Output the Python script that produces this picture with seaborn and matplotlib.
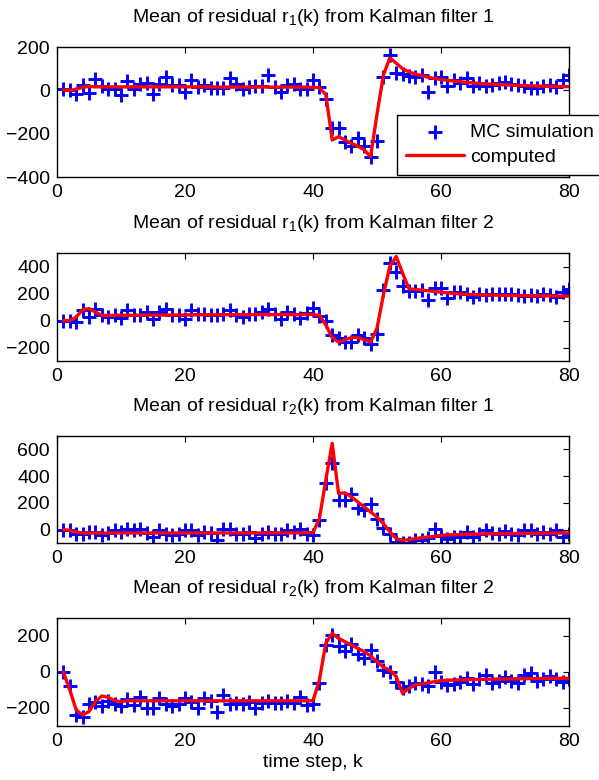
import numpy as np
import matplotlib
matplotlib.use("Agg")
import matplotlib.pyplot as plt
import seaborn as sns

sns.set_theme(style="white")
plt.rcParams['font.family'] = ['Liberation Sans', 'DejaVu Sans']
plt.rcParams['mathtext.fontset'] = 'custom'
plt.rcParams['mathtext.rm'] = 'Liberation Sans'
plt.rcParams['text.color'] = 'black'
plt.rcParams['axes.labelcolor'] = 'black'
plt.rcParams['axes.titlecolor'] = 'black'

# time steps
k = np.arange(1, 81)

# residual r1, filter 1
r1_f1_mc = [5, 2, -17, 25, -14, 51, 20, 5, 5, -22,
            43, 5, 29, 35, -17, 29, 60, 25, 25, -6,
            48, 14, 25, 9, 9, 9, 55, 29, 5, 14,
            20, 20, 71, 14, -6, 25, 29, 5, 5, 48,
            17, -42, -175, -175, -237, -257, -222, -257, -306, -232,
            60, 163, 82, 75, 66, 63, 71, -6, 58, 60,
            22, 48, 32, 58, 20, 32, 20, 25, 32, 40,
            29, 25, 20, 9, 9, 20, 25, 17, 48, 71]
r1_f1_comp = [2, 0, 5, 14, 18, 16, 16, 16, 16, 16,
              16, 16, 16, 16, 16, 16, 16, 16, 16, 16,
              16, 16, 16, 16, 15, 15, 15, 15, 15, 15,
              15, 15, 15, 15, 15, 15, 15, 15, 15, 14,
              12, -20, -229, -214, -229, -245, -257, -275, -306, -110,
              70, 150, 125, 100, 85, 75, 68, 60, 55, 50,
              46, 43, 40, 37, 34, 32, 30, 28, 27, 25,
              24, 23, 22, 21, 20, 19, 18, 18, 17, 17]

# residual r1, filter 2
r1_f2_mc = [0, 0, -12, 75, 25, 88, 38, 25, 38, 20,
            80, 38, 38, 62, 12, 62, 88, 38, 38, 12,
            80, 50, 50, 38, 38, 50, 75, 38, 25, 50,
            50, 62, 88, 50, 12, 62, 50, 22, 54, 91,
            30, -2, -106, -126, -156, -156, -106, -131, -175, -101,
            227, 425, 358, 252, 215, 220, 227, 153, 240, 240,
            170, 212, 212, 200, 175, 195, 190, 200, 195, 200,
            195, 190, 180, 190, 185, 195, 190, 175, 212, 237]
r1_f2_comp = [0, 0, 25, 80, 88, 62, 38, 38, 38, 39,
              39, 39, 40, 40, 40, 40, 41, 41, 41, 41,
              42, 42, 42, 42, 42, 43, 43, 43, 43, 43,
              44, 44, 44, 44, 44, 44, 44, 42, 45, 45,
              37, -32, -126, -160, -143, -126, -126, -143, -160, -57,
              190, 400, 474, 350, 235, 230, 225, 220, 215, 210,
              205, 200, 197, 194, 192, 190, 189, 188, 187, 186,
              185, 185, 184, 183, 183, 182, 182, 181, 181, 180]

# residual r2, filter 1
r2_f1_mc = [0, -5, -30, -35, -18, -18, -42, -25, -5, -18,
            8, -5, 8, -25, -55, 0, -30, -42, -35, -5,
            -5, -42, -18, -25, -75, 8, 8, -30, -35, -18,
            -60, -35, -18, -30, -35, -5, -18, 8, -30, -42,
            75, 350, 495, 225, 225, 270, 165, 150, 190, 82,
            15, -35, -92, -100, -100, -80, -75, -60, 8, -50,
            -68, -55, -55, -18, -55, -35, -5, -25, -35, -10,
            -30, -42, -5, -5, -35, -18, -35, 0, -55, -30]
r2_f1_comp = [0, -5, -18, -25, -26, -26, -26, -26, -25, -25,
              -25, -25, -25, -25, -25, -25, -25, -25, -25, -25,
              -25, -25, -25, -25, -25, -25, -25, -25, -25, -25,
              -25, -25, -24, -24, -24, -24, -24, -24, -23, -22,
              82, 370, 645, 270, 275, 245, 207, 170, 132, 95,
              45, -17, -67, -80, -75, -67, -60, -55, -50, -42,
              -40, -38, -36, -35, -34, -33, -32, -31, -30, -30,
              -29, -29, -28, -28, -27, -27, -26, -26, -25, -25]

# residual r2, filter 2
r2_f2_mc = [0, -78, -239, -252, -178, -165, -189, -159, -178, -189,
            -152, -183, -141, -202, -202, -146, -178, -189, -178, -146,
            -165, -202, -146, -159, -222, -128, -178, -170, -178, -165,
            -202, -170, -159, -170, -170, -159, -170, -141, -183, -178,
            -63, 150, 205, 144, 118, 155, 100, 76, 122, 63,
            11, 2, -54, -91, -78, -59, -67, -78, 2, -54,
            -72, -67, -54, -35, -67, -41, -17, -59, -48, -26,
            -48, -59, -17, -7, -48, -41, -22, -41, -54, -41]
r2_f2_comp = [0, -100, -211, -239, -220, -165, -133, -141, -159, -165,
              -159, -160, -160, -160, -160, -160, -160, -160, -160, -160,
              -160, -160, -160, -160, -160, -160, -160, -160, -160, -160,
              -160, -160, -160, -160, -160, -160, -160, -160, -160, -160,
              -44, 159, 215, 187, 168, 150, 131, 113, 89, 57,
              26, 11, -26, -118, -91, -72, -67, -59, -54, -48,
              -46, -45, -44, -43, -42, -41, -40, -40, -39, -39,
              -38, -38, -37, -37, -36, -36, -36, -35, -35, -35]

titles = ['Mean of residual $\\mathregular{r_1}$(k) from Kalman filter 1',
          'Mean of residual $\\mathregular{r_1}$(k) from Kalman filter 2',
          'Mean of residual $\\mathregular{r_2}$(k) from Kalman filter 1',
          'Mean of residual $\\mathregular{r_2}$(k) from Kalman filter 2']
mc_series = [r1_f1_mc, r1_f2_mc, r2_f1_mc, r2_f2_mc]
comp_series = [r1_f1_comp, r1_f2_comp, r2_f1_comp, r2_f2_comp]
ylims = [(-400, 200), (-300, 500), (-100, 700), (-300, 300)]
yticks = [[-400, -200, 0, 200], [-200, 0, 200, 400], [0, 200, 400, 600], [-200, 0, 200]]

# axes boxes in pixels (top, bottom) of the 599x780 figure
boxes = [(47, 177), (253, 361), (436, 543), (618, 726)]

fig = plt.figure(figsize=(5.99, 7.80), dpi=100)
for i in range(4):
    top, bot = boxes[i]
    ax = fig.add_axes([57 / 599, 1 - bot / 780, (569 - 57) / 599, (bot - top) / 780])
    sns.scatterplot(x=k, y=mc_series[i], ax=ax, marker='+', color='blue',
                    s=95, linewidth=2.1, label='MC simulation', legend=False, zorder=2)
    sns.lineplot(x=k, y=comp_series[i], ax=ax, color='red', linewidth=2.4,
                 label='computed', legend=False, zorder=3)
    ax.set_xlim(0, 80)
    ax.set_ylim(*ylims[i])
    ax.set_xticks([0, 20, 40, 60, 80])
    ax.set_yticks(yticks[i])
    ax.tick_params(direction='in', length=4, width=0.8, top=True, right=True,
                   labelsize=14, colors='black', pad=5)
    for sp in ax.spines.values():
        sp.set_color('black')
        sp.set_linewidth(1.0)
    ax.set_title(titles[i], fontsize=14, pad=18)
    ax.set_ylabel('')
    if i == 0:
        leg = ax.legend(loc='lower left', bbox_to_anchor=((397 - 57) / 512, 2 / 130),
                        borderaxespad=0, fontsize=14, frameon=True, fancybox=False,
                        framealpha=1, edgecolor='black', handlelength=3.0,
                        handletextpad=0.3, labelspacing=0.4, borderpad=0.45,
                        scatterpoints=1)
        leg.get_frame().set_linewidth(1.0)
        leg.set_zorder(5)
    if i == 3:
        ax.set_xlabel('time step, k', fontsize=14, labelpad=3)

fig.savefig('out.png', dpi=100)
